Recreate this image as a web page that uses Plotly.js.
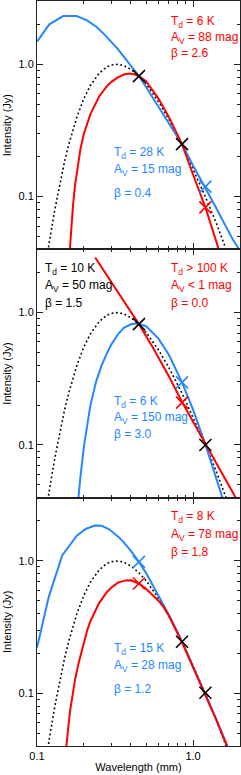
<!DOCTYPE html>
<html>
<head>
<meta charset="utf-8">
<script src="https://cdn.plot.ly/plotly-3.0.1.min.js"></script>
<style>
  html, body { margin:0; padding:0; background:#fff; }
  #chart { width:241px; height:775px; }
</style>
</head>
<body>
<div id="chart"></div>
<script>
// ---------- data (wavelength in mm, intensity in Jy) ----------
// reference modified black body (T=10 K, beta=1.5), identical in all panels
const lamDot = [0.11,0.115,0.12,0.13,0.14,0.15,0.16,0.18,0.20,0.22,0.25,0.28,0.30,0.33,0.36,0.40,0.45,0.50,0.60,0.70,0.85,1.0,1.2,1.4,1.6,1.8,2.0];
const intDot = [0.0226,0.0326,0.0455,0.0795,0.126,0.183,0.249,0.398,0.552,0.691,0.853,0.954,0.986,0.998,0.977,0.914,0.813,0.709,0.523,0.384,0.246,0.163,0.0998,0.0644,0.0435,0.0305,0.021];

// panel 1
const lamB1 = [0.1,0.12,0.147,0.179,0.208,0.24,0.27,0.30,0.33,0.36,0.40,0.45,0.50,0.60,0.70,0.85,1.0,1.2,1.4,1.6,1.8,2.0];
const intB1 = [1.48,2.0,2.31,2.31,2.15,1.92,1.68,1.47,1.30,1.14,0.97,0.812,0.672,0.48,0.357,0.249,0.172,0.117,0.083,0.0615,0.0475,0.039];
const lamR1 = [0.158,0.162,0.166,0.17,0.175,0.18,0.19,0.20,0.22,0.25,0.28,0.30,0.33,0.36,0.39,0.42,0.45,0.50,0.60,0.70,0.85,1.0,1.2,1.4,1.5];
const intR1 = [0.025,0.04,0.06,0.085,0.12,0.155,0.23,0.30,0.42,0.57,0.68,0.735,0.795,0.835,0.85,0.84,0.812,0.745,0.55,0.40,0.249,0.147,0.083,0.047,0.036];
const lamX1 = [0.45,0.85,1.2,1.2];
const intX1 = [0.812,0.249,0.119,0.083];
const colX1 = ['black','black','blue','red'];

// panel 2
const lamR2 = [0.236,0.30,0.36,0.45,0.55,0.70,0.85,1.0,1.2,1.5,1.85,2.0];
const intR2 = [2.6,1.68,1.20,0.817,0.55,0.33,0.211,0.150,0.101,0.063,0.041,0.035];
const lamB2 = [0.18,0.184,0.19,0.20,0.21,0.22,0.24,0.26,0.28,0.30,0.33,0.36,0.40,0.43,0.45,0.50,0.60,0.70,0.85,1.0,1.2,1.4,1.5,1.6];
const intB2 = [0.03,0.04,0.058,0.098,0.145,0.20,0.305,0.40,0.49,0.575,0.685,0.765,0.815,0.826,0.82,0.79,0.635,0.48,0.297,0.185,0.101,0.058,0.045,0.035];
const lamX2 = [0.45,0.85,0.85,1.2];
const intX2 = [0.817,0.297,0.209,0.100];
const colX2 = ['black','blue','red','black'];

// panel 3
const lamB3 = [0.1,0.119,0.145,0.18,0.205,0.235,0.26,0.29,0.33,0.36,0.40,0.45,0.50,0.60,0.65,0.70,0.85,1.0,1.2,1.4,1.6,1.8];
const intB3 = [0.221,0.535,1.10,1.55,1.74,1.85,1.84,1.73,1.53,1.38,1.19,0.983,0.808,0.545,0.462,0.392,0.246,0.160,0.100,0.065,0.0445,0.0315];
const lamR3 = [0.15,0.154,0.158,0.163,0.17,0.176,0.185,0.195,0.21,0.22,0.25,0.28,0.30,0.33,0.37,0.40,0.45,0.50,0.60,0.65,0.70,0.85,1.0,1.2,1.4,1.6,1.8];
const intR3 = [0.028,0.04,0.053,0.074,0.10,0.13,0.17,0.22,0.30,0.35,0.48,0.58,0.63,0.685,0.712,0.714,0.675,0.615,0.50,0.445,0.385,0.243,0.158,0.099,0.064,0.0437,0.031];
const lamX3 = [0.45,0.45,0.85,1.2];
const intX3 = [0.983,0.675,0.245,0.101];
const colX3 = ['blue','red','black','black'];

// text labels
const labels1 = [
  {c:'red',  x:0.650, ys:[0.917,0.850,0.789], t:['T<sub>d</sub> = 6 K','A<sub>V</sub> = 88 mag','β = 2.6']},
  {c:'blue', x:0.369, ys:[0.388,0.319,0.227], t:['T<sub>d</sub> = 28 K','A<sub>V</sub> = 15 mag','β = 0.4']}
];
const labels2 = [
  {c:'black',x:0.030, ys:[0.921,0.854,0.785], t:['T<sub>d</sub> = 10 K','A<sub>V</sub> = 50 mag','β = 1.5']},
  {c:'red',  x:0.650, ys:[0.921,0.854,0.785], t:['T<sub>d</sub> > 100 K','A<sub>V</sub> < 1 mag','β = 0.0']},
  {c:'blue', x:0.369, ys:[0.386,0.322,0.255], t:['T<sub>d</sub> = 6 K','A<sub>V</sub> = 150 mag','β = 3.0']}
];
const labels3 = [
  {c:'red',  x:0.650, ys:[0.923,0.850,0.782], t:['T<sub>d</sub> = 8 K','A<sub>V</sub> = 78 mag','β = 1.8']},
  {c:'blue', x:0.369, ys:[0.391,0.323,0.228], t:['T<sub>d</sub> = 15 K','A<sub>V</sub> = 28 mag','β = 1.2']}
];

// ---------- styling ----------
const BLUE = 'rgb(35,135,255)';
const RED = 'rgb(255,0,0)';
const cmap = {black:'#000', blue:BLUE, red:RED};

function line(x, y, color, ax, dotted) {
  return {x:x, y:y, type:'scatter', mode:'lines', xaxis:'x'+ax, yaxis:'y'+ax,
          line:{color:color, width: dotted ? 1.6 : 2, dash: dotted ? '1.8px,2.6px' : 'solid', shape:'linear'},
          hoverinfo:'skip', cliponaxis:true};
}
function crosses(x, y, cols, ax) {
  return {x:x, y:y, type:'scatter', mode:'markers', xaxis:'x'+ax, yaxis:'y'+ax,
          marker:{symbol:'x-thin', size:12, color:cols.map(c=>cmap[c]),
                  line:{color:cols.map(c=>cmap[c]), width:1.6}},
          hoverinfo:'skip', cliponaxis:false};
}

const traces = [
  line(lamDot, intDot, '#000', '', true),
  line(lamB1, intB1, BLUE, ''),
  line(lamR1, intR1, RED, ''),
  crosses(lamX1, intX1, colX1, ''),

  line(lamDot, intDot, '#000', '2', true),
  line(lamB2, intB2, BLUE, '2'),
  line(lamR2, intR2, RED, '2'),
  crosses(lamX2, intX2, colX2, '2'),

  line(lamDot, intDot, '#000', '3', true),
  line(lamB3, intB3, BLUE, '3'),
  line(lamR3, intR3, RED, '3'),
  crosses(lamX3, intX3, colX3, '3')
];

const FRAME = '#222';
const xMinor = [0.2,0.3,0.4,0.5,0.6,0.7,0.8,0.9,2];
const yMinor = [0.05,0.06,0.07,0.08,0.09,0.2,0.3,0.4,0.5,0.6,0.7,0.8,0.9,2,3];
function xAxis(anchor, labels) {
  const a = {type:'log', range:[-1, Math.log10(2)], anchor:anchor, domain:[0,1],
    showline:true, mirror:'ticks', linecolor:FRAME, linewidth:1,
    ticks:'inside', ticklen:6, tickwidth:1, tickcolor:FRAME,
    tickvals:[0.1,1], ticktext:['0.1','1.0'], showticklabels:labels,
    minor:{ticks:'inside', ticklen:3, tickwidth:1, tickcolor:FRAME, tickvals:xMinor, showgrid:false},
    showgrid:false, zeroline:false, tickfont:{size:11, color:'#000'}};
  if (labels) a.title = {text:'Wavelength (mm)', font:{size:11, color:'#000'}, standoff:2};
  return a;
}
function yAxis(anchor, dom) {
  return {type:'log', range:[Math.log10(0.04), Math.log10(3)], anchor:anchor, domain:dom,
    showline:true, mirror:'ticks', linecolor:FRAME, linewidth:1,
    ticks:'inside', ticklen:6, tickwidth:1, tickcolor:FRAME,
    tickvals:[0.1,1], ticktext:['0.1','1.0'],
    minor:{ticks:'inside', ticklen:3, tickwidth:1, tickcolor:FRAME, tickvals:yMinor, showgrid:false},
    showgrid:false, zeroline:false, tickfont:{size:11, color:'#000'},
    title:{text:'Intensity (Jy)', font:{size:11, color:'#000'}, standoff:4}};
}

const annotations = [];
function addLabels(list, ax) {
  list.forEach(g => {
    g.t.forEach((txt, i) => {
      annotations.push({text:txt, xref:'x'+ax+' domain', yref:'y'+ax+' domain',
        x:g.x, y:g.ys[i], xanchor:'left', yanchor:'middle', showarrow:false,
        font:{size:12, color:cmap[g.c]}});
    });
  });
}
addLabels(labels1, '');
addLabels(labels2, '2');
addLabels(labels3, '3');

const layout = {
  width:241, height:775,
  margin:{l:37, r:1, t:1, b:29},
  paper_bgcolor:'#fff', plot_bgcolor:'#fff',
  showlegend:false,
  font:{family:'"Liberation Sans", Arial, Helvetica, sans-serif', size:11, color:'#000'},
  xaxis: xAxis('y', false),  yaxis: yAxis('x', [2/3, 1]),
  xaxis2: xAxis('y2', false), yaxis2: yAxis('x2', [1/3, 2/3]),
  xaxis3: xAxis('y3', true),  yaxis3: yAxis('x3', [0, 1/3]),
  annotations: annotations
};

Plotly.newPlot('chart', traces, layout, {staticPlot:true, displayModeBar:false});
</script>
</body>
</html>
